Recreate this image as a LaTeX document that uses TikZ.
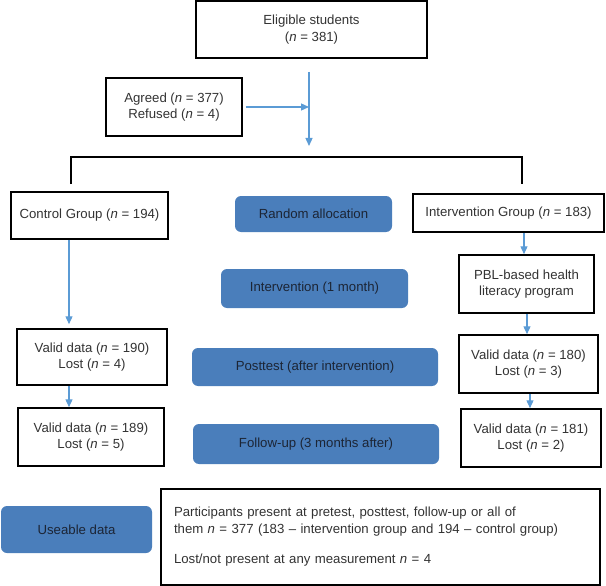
\documentclass[tikz,border=0pt]{standalone}
\usepackage{fontspec}
\setmainfont{Liberation Sans}
\usetikzlibrary{arrows.meta}
\definecolor{boxblue}{HTML}{4A7EBB}
\definecolor{arrblue}{HTML}{5B9BD5}
\definecolor{txtgray}{HTML}{333333}
\definecolor{navytxt}{HTML}{1C2535}
\begin{document}
\begin{tikzpicture}[x=1pt,y=-1pt,
  every node/.style={font=\fontsize{13.2}{16.5}\selectfont},
  wbox/.style={draw=black, line width=1.5pt, fill=white, text=txtgray, align=center, inner sep=0pt},
  bbox/.style={fill=boxblue, rounded corners=6pt, text=navytxt, align=center, inner sep=0pt},
  arr/.style={draw=arrblue, line width=1.3pt, -{Triangle[length=8pt,width=7pt]}},
  brk/.style={draw=black, line width=1.2pt}]
\useasboundingbox (0,0) rectangle (606,586);

% white boxes
\node[wbox, minimum width=231pt, minimum height=57pt] (elig) at (311.5,29.5) {Eligible students\\(\textit{n} = 381)};
\node[wbox, minimum width=136pt, minimum height=58pt] (agreed) at (174,107) {Agreed (\textit{n} = 377)\\Refused (\textit{n} = 4)};
\node[wbox, minimum width=157pt, minimum height=47pt] (control) at (89.5,215.5) {Control Group (\textit{n} = 194)};
\node[wbox, minimum width=191pt, minimum height=38pt] (intg) at (508.5,213) {Intervention Group (\textit{n} = 183)};
\node[wbox, minimum width=135pt, minimum height=58pt] (pbl) at (526.5,284) {PBL-based health\\literacy program};
\node[wbox, minimum width=150pt, minimum height=56pt] (v190) at (92,357) {Valid data (\textit{n} = 190)\\Lost (\textit{n} = 4)};
\node[wbox, minimum width=139pt, minimum height=58pt] (v180) at (528.5,364) {Valid data (\textit{n} = 180)\\Lost (\textit{n} = 3)};
\node[wbox, minimum width=146pt, minimum height=58pt] (v189) at (91,437) {Valid data (\textit{n} = 189)\\Lost (\textit{n} = 5)};
\node[wbox, minimum width=140pt, minimum height=58pt] (v181) at (531,438) {Valid data (\textit{n} = 181)\\Lost (\textit{n} = 2)};
\node[wbox, align=left, text width=413pt, inner xsep=13pt, minimum height=96pt] (big) at (380.5,537)
  {Participants present at pretest, posttest, follow-up or all of\\
   them \textit{n} = 377 (183 -- intervention group and 194 -- control group)\\[14pt]
   Lost/not present at any measurement \textit{n} = 4};

% blue boxes
\node[bbox, minimum width=157pt, minimum height=36pt] (random) at (313.5,214) {Random allocation};
\node[bbox, minimum width=187pt, minimum height=39pt] (interv) at (314.5,288.5) {Intervention (1 month)};
\node[bbox, minimum width=246pt, minimum height=38pt] (post) at (315,367) {Posttest (after intervention)};
\node[bbox, minimum width=246pt, minimum height=40pt] (follow) at (316,444) {Follow-up (3 months after)};
\node[bbox, minimum width=151pt, minimum height=47pt] (use) at (76.5,529.5) {Useable data};

% top connectors
\coordinate (vtop) at (309,72);
\coordinate (vbot) at (309,146);
\draw[arr] (vtop) -- (vbot);
\draw[arr] ([xshift=3pt]agreed.east) -- (agreed.east -| vtop);

% bracket
\coordinate (bl) at (71,184);
\coordinate (blt) at (71,157);
\coordinate (brt) at (522,157);
\coordinate (br) at (522,184);
\draw[brk] (bl) -- (blt) -- (brt) -- (br);

% left column arrows
\coordinate (cl) at (69,0);
\draw[arr] (control.south -| cl) -- ([yshift=4pt]v190.north -| cl);
\draw[arr] (v190.south -| cl) -- (v189.north -| cl);

% right column arrows
\coordinate (ca) at (524,0);
\coordinate (cb) at (527,0);
\coordinate (cc) at (530,0);
\draw[arr] (intg.south -| ca) -- (pbl.north -| ca);
\draw[arr] (pbl.south -| cb) -- (v180.north -| cb);
\draw[arr] (v180.south -| cc) -- (v181.north -| cc);
\end{tikzpicture}
\end{document}
